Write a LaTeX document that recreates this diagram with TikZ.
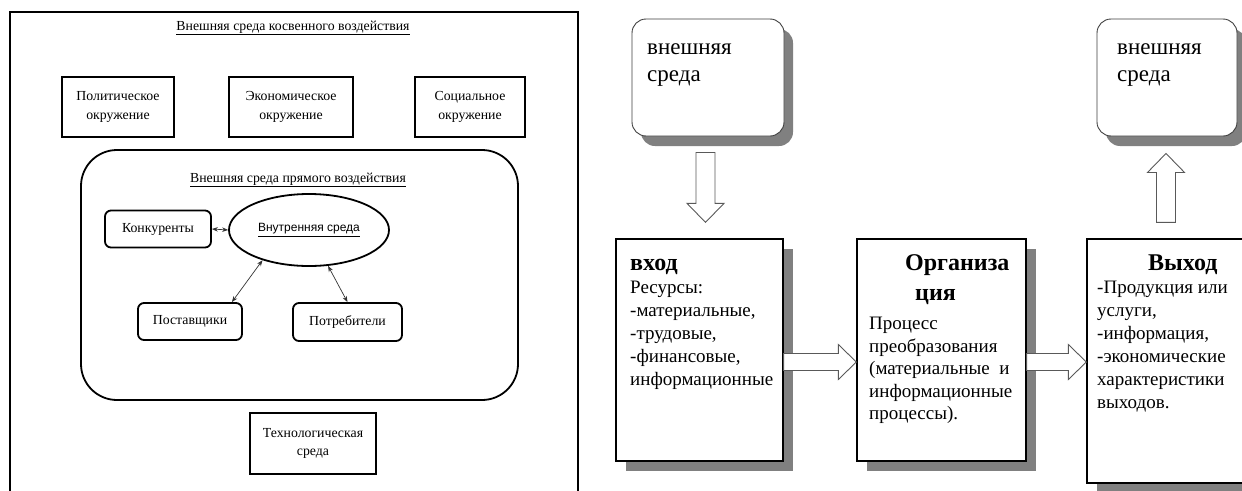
\documentclass[tikz,border=0pt]{standalone}
\usepackage{fontspec}
\setmainfont{Liberation Serif}
\newfontfamily\sansf{Liberation Sans}
\usetikzlibrary{calc,shadows,arrows.meta,shapes.geometric}

% hollow block arrow, horizontal: #1 = tail point, #2 = tip point (same height)
\newcommand\hblockarrow[2]{%
  \draw[blk] ($(#1)+(0,-8.5)$) -- ($(#2)+(-18,-8.5)$) -- ($(#2)+(-18,-17.5)$)
    -- (#2) -- ($(#2)+(-18,17.5)$) -- ($(#2)+(-18,8.5)$) -- ($(#1)+(0,8.5)$) -- cycle;}

\begin{document}
\begin{tikzpicture}[x=1pt,y=-1pt,
  lbox/.style={draw, line width=1.8pt, inner sep=0pt, align=center,
    font=\fontsize{13.8}{18.5}\selectfont},
  lround/.style={lbox, rounded corners=6pt},
  ltitle/.style={inner sep=0pt, font=\fontsize{13.8}{16}\selectfont},
  link/.style={<->, >={Stealth[length=6pt,width=4.5pt]}, line width=0.7pt, draw=black!80},
  envbox/.style={draw=black!75, line width=0.9pt, rounded corners=14pt, fill=white, inner sep=0pt,
    drop shadow={shadow xshift=9pt, shadow yshift=-10pt, fill=black!50, opacity=1}},
  rbox/.style={draw, line width=1.3pt, fill=white, inner sep=0pt,
    drop shadow={shadow xshift=10pt, shadow yshift=-10pt, fill=black!50, opacity=1}},
  blk/.style={draw=black!65, line width=0.9pt, fill=white},
  envtext/.style={inner sep=0pt, anchor=north west, align=left, font=\fontsize{23}{27}\selectfont},
  rtitle/.style={inner sep=0pt, anchor=base west, font=\fontsize{24}{28}\selectfont\bfseries},
  rtext/.style={inner sep=0pt, anchor=north west, align=left, font=\fontsize{19}{23}\selectfont}]

\useasboundingbox (0,0) rectangle (1242,490);
\fill[white] (0,0) rectangle (1242,490);
\clip (0,0) rectangle (1242,490);

% ---------- environment of the organisation ----------
\node[draw, line width=1.8pt, minimum width=568pt, minimum height=510pt, inner sep=0pt]
  (outer) at (294,267) {};
\node[ltitle] (t1) at (293,28) {\underline{Внешняя среда косвенного воздействия}};

\node[lbox, minimum width=112pt, minimum height=60pt] (pol) at (118,107) {Политическое\\окружение};
\node[lbox, minimum width=124pt, minimum height=60pt] (eco) at (291,107) {Экономическое\\окружение};
\node[lbox, minimum width=110pt, minimum height=60pt] (soc) at (470,107) {Социальное\\окружение};

\node[draw, line width=1.8pt, rounded corners=36pt, minimum width=437pt, minimum height=250pt,
  inner sep=0pt] (direct) at (299.5,275) {};
\node[ltitle] (t2) at (298,180) {\underline{Внешняя среда прямого воздействия}};

\node[lround, minimum width=106pt, minimum height=37pt] (konk) at (158,229) {Конкуренты};
\node[draw, line width=1.8pt, ellipse, minimum width=160pt, minimum height=72pt, inner sep=0pt,
  font=\sansf\fontsize{12}{14}\selectfont] (ell) at (309,230) {\underline{Внутренняя среда}};
\node[lround, minimum width=104pt, minimum height=37pt] (post) at (190,321.5) {Поставщики};
\node[lround, minimum width=109pt, minimum height=38pt] (potr) at (347.5,322) {Потребители};

\node[lbox, minimum width=126pt, minimum height=61pt] (tech) at (313,443.5) {Технологическая\\среда};

\draw[link] (konk.east) -- (ell.west);
\draw[link] ([xshift=-11pt]post.north east) -- (ell.213);
\draw[link] (ell.298) -- (potr.north);

% ---------- organisation as an open system ----------
\node[envbox, minimum width=152pt, minimum height=117pt] (env1) at (708,77.5) {};
\node[envbox, minimum width=140pt, minimum height=117pt] (env2) at (1167,77.5) {};
\node[envtext] (env1t) at (647,43) {внешняя\\среда};
\node[envtext] (env2t) at (1117,43) {внешняя\\среда};

\node[rbox, minimum width=167pt, minimum height=222pt] (in) at (699.5,350) {};
\node[rbox, minimum width=169pt, minimum height=222pt] (org) at (941.5,350) {};
\node[rbox, minimum width=175pt, minimum height=244pt] (out) at (1174.5,361) {};

\node[rtitle] (inh) at (630,270) {вход};
\node[rtext] (inb) at (630,281) {Ресурсы:\\-материальные,\\-трудовые,\\-финансовые,\\информационные};

\node[rtitle] (orgh1) at (905,270) {Организа};
\node[rtitle] (orgh2) at (915,300) {ция};
\node[rtext, font=\fontsize{19}{22.5}\selectfont] (orgb) at (869,317) {Процесс\\преобразования\\(материальные~~и\\информационные\\процессы).};

\node[rtitle] (outh) at (1148,270) {Выход};
\node[rtext] (outb) at (1097,281) {-Продукция или\\услуги,\\-информация,\\-экономические\\характеристики\\выходов.};

% block arrows between the parts
\coordinate (h1s) at ($(in.east)+(0,12)$);
\coordinate (h1e) at ($(org.west)+(0,12)$);
\coordinate (h2s) at ($(org.east)+(0,12)$);
\coordinate (h2e) at ($(out.west |- org.east)+(0,12)$);
\hblockarrow{h1s}{h1e}
\hblockarrow{h2s}{h2e}

\coordinate (d1) at ($(env1.south)+(-2.5,16)$);
\coordinate (d2) at ($(env1.south |- in.north)+(-2.5,-16)$);
\draw[blk] ($(d1)+(-9.5,0)$) -- ($(d2)+(-9.5,-19)$) -- ($(d2)+(-18.5,-19)$) -- (d2)
  -- ($(d2)+(18.5,-19)$) -- ($(d2)+(9.5,-19)$) -- ($(d1)+(9.5,0)$) -- cycle;

\coordinate (u1) at ($(env2.south |- out.north)+(-1,-16)$);
\coordinate (u2) at ($(env2.south)+(-1,17)$);
\draw[blk] ($(u1)+(-9.5,0)$) -- ($(u2)+(-9.5,19)$) -- ($(u2)+(-18.5,19)$) -- (u2)
  -- ($(u2)+(18.5,19)$) -- ($(u2)+(9.5,19)$) -- ($(u1)+(9.5,0)$) -- cycle;
\end{tikzpicture}
\end{document}
